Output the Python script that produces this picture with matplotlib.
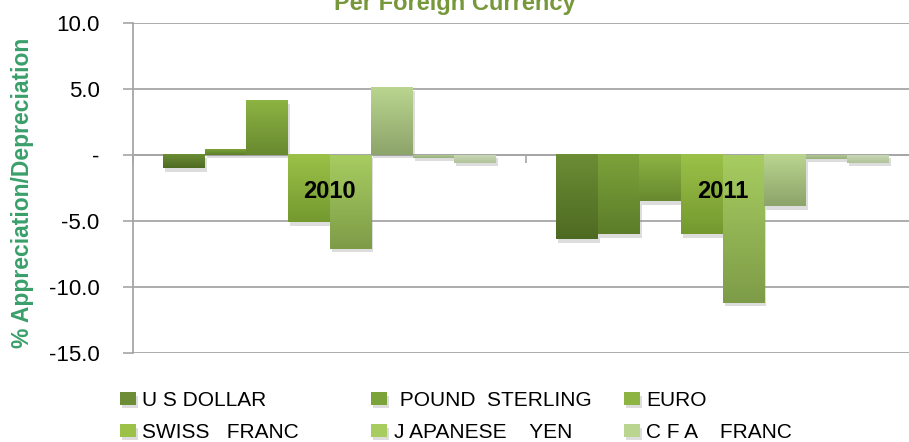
import numpy as np
import matplotlib
matplotlib.use("Agg")
import matplotlib.pyplot as plt
import matplotlib.patheffects as pe

plt.rcParams['font.family'] = ['Liberation Sans', 'DejaVu Sans']

years = ["2010", "2011"]
currencies = ["U S DOLLAR", " POUND  STERLING", "EURO",
              "SWISS   FRANC", "J APANESE    YEN", "C F A    FRANC",
              "OTHER 1", "OTHER 2"]
# % appreciation/depreciation, one list per currency: [2010, 2011]
us_dollar = [-1.0, -6.4]
pound_sterling = [0.4, -6.0]
euro = [4.1, -3.5]
swiss_franc = [-5.1, -6.0]
japanese_yen = [-7.1, -11.2]
cfa_franc = [5.1, -3.9]
other_1 = [-0.2, -0.3]
other_2 = [-0.6, -0.6]
series = [us_dollar, pound_sterling, euro, swiss_franc,
          japanese_yen, cfa_franc, other_1, other_2]

yticks = [-15, -10, -5, 0, 5, 10]

# (top colour, bottom colour) for the gradient fill of each series
grads = [("#6c8d35", "#4e6a22"), ("#7ca23a", "#5d7d2a"),
         ("#8db343", "#68892f"), ("#9cc148", "#74992f"),
         ("#a7cc60", "#7e9c48"), ("#b9d58f", "#8da46a"),
         ("#b0c894", "#98ae7c"), ("#c9d8b4", "#b1c39b")]

fig = plt.figure(figsize=(9.09, 4.42), dpi=100)
ax = fig.add_axes([133/909, 1-353/442, 786/909, 330/442])

x = np.arange(len(years))
w = 0.1057
shadow = [pe.SimplePatchShadow(offset=(1.5, -2.5), shadow_rgbFace='#909090', alpha=0.3), pe.Normal()]
containers = []
for i, vals in enumerate(series):
    bc = ax.bar(x + (i - 3.5)*w, vals, w, color=grads[i][0], zorder=3,
                linewidth=0, path_effects=shadow)
    containers.append(bc)
    top = np.array(matplotlib.colors.to_rgb(grads[i][0]))
    bot = np.array(matplotlib.colors.to_rgb(grads[i][1]))
    g = np.linspace(0, 1, 64)[:, None]
    img = (top*(1-g) + bot*g)[:, None, :]
    for p in bc:
        x0, y0 = p.get_xy()
        h = p.get_height()
        ax.imshow(img, extent=[x0, x0 + p.get_width(), min(y0, y0+h), max(y0, y0+h)],
                  aspect='auto', zorder=4, interpolation='bilinear')

ax.set_xlim(-0.5, 1.5)
ax.set_ylim(-15, 10)
ax.set_yticks(yticks)
ax.set_yticklabels(['-' if v == 0 else '%.1f' % v for v in yticks], fontsize=16)
ax.yaxis.grid(True, color='#a6a6a6', linewidth=1.3, zorder=0)
ax.set_axisbelow(True)
ax.tick_params(axis='y', length=7, width=1.2, color='#a6a6a6', pad=17)

for s in ['top', 'right']:
    ax.spines[s].set_visible(False)
ax.spines['left'].set_color('#a6a6a6')
ax.spines['left'].set_linewidth(1.3)
ax.spines['bottom'].set_position(('data', 0))
ax.spines['bottom'].set_color('#a6a6a6')
ax.spines['bottom'].set_linewidth(1.3)
ax.spines['bottom'].set_zorder(1)

ax.set_xticks(x)
ax.set_xticklabels(years, fontsize=17, fontweight='bold')
ax.set_xticks([-0.5, 0.5, 1.5], minor=True)
ax.tick_params(axis='x', which='major', length=0, pad=18)
ax.tick_params(axis='x', which='minor', length=6, width=1.2, color='#a6a6a6')
ax.xaxis.set_zorder(6)

fig.text(23/909, 1-193/442, "% Appreciation/Depreciation", rotation=90,
         ha='center', va='center', fontsize=16.5, fontweight='bold', color='#3a9f6b')
fig.text(455/909, 1-10/442, "Per Foreign Currency", ha='center', va='baseline',
         fontsize=17, fontweight='bold', color='#77983a')

col_x = [120, 371, 624]
for c in range(3):
    fig.legend([containers[c], containers[c+3]], [currencies[c], currencies[c+3]],
               loc='upper left', bbox_to_anchor=(col_x[c]/909, 1-391/442),
               frameon=False, fontsize=15, handlelength=0.78, handleheight=0.55,
               handletextpad=0.3, borderpad=0, borderaxespad=0, labelspacing=0.62)

fig.savefig("out.png", dpi=100)
